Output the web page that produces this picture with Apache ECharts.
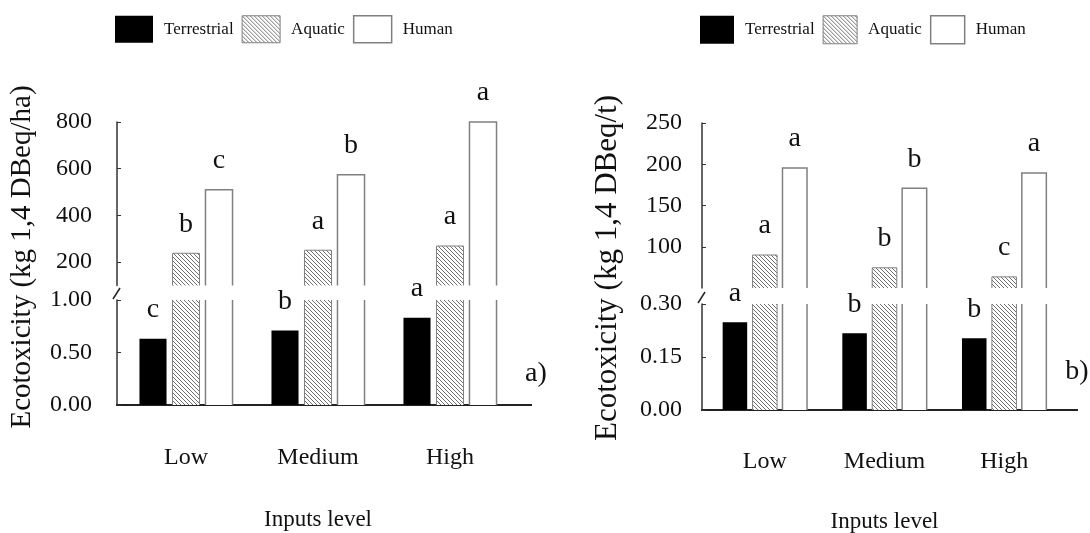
<!DOCTYPE html>
<html>
<head>
<meta charset="utf-8">
<script src="https://cdn.jsdelivr.net/npm/echarts@6/dist/echarts.min.js"></script>
<style>
  html, body { margin: 0; padding: 0; background: #fff; }
  #chart { width: 1090px; height: 533px; }
</style>
</head>
<body>
<div id="chart"></div>
<script>
// categories
const levels = ['Low', 'Medium', 'High'];
const seriesNames = ['Terrestrial', 'Aquatic', 'Human'];

// panel a) - kg 1,4 DBeq/ha
const terrA = [0.63, 0.71, 0.83];
const aquaA = [238, 251, 269];
const humanA = [510, 574, 800];
const terrA_sig = ['c', 'b', 'a'];
const aquaA_sig = ['b', 'a', 'a'];
const humanA_sig = ['c', 'b', 'a'];

// panel b) - kg 1,4 DBeq/t
const terrB = [0.248, 0.217, 0.203];
const aquaB = [90, 74.5, 63.5];
const humanB = [195.5, 171, 189.5];
const terrB_sig = ['a', 'b', 'b'];
const aquaB_sig = ['a', 'b', 'c'];
const humanB_sig = ['a', 'b', 'a'];

// tick labels of the broken y axes
const ticksA_low = [0, 0.5, 1];
const ticksA_high = [200, 400, 600, 800];
const ticksB_low = [0, 0.15, 0.3];
const ticksB_high = [100, 150, 200, 250];

const serif = '"Liberation Serif", "DejaVu Serif", serif';

// hatch fill for the aquatic bars
function makeHatch() {
  const c = document.createElement('canvas');
  c.width = 4; c.height = 4;
  const g = c.getContext('2d');
  g.fillStyle = '#fff';
  g.fillRect(0, 0, 4, 4);
  g.strokeStyle = '#707070';
  g.lineWidth = 1;
  g.beginPath();
  g.moveTo(0, 0); g.lineTo(4, 4);
  g.moveTo(-1, 3); g.lineTo(1, 5);
  g.moveTo(3, -1); g.lineTo(5, 1);
  g.stroke();
  return c;
}
const hatch = { image: makeHatch(), repeat: 'repeat' };

const looks = {
  Terrestrial: { fill: '#000', stroke: null, width: 0 },
  Aquatic: { fill: hatch, stroke: '#808080', width: 1 },
  Human: { fill: '#fff', stroke: '#808080', width: 1.5 }
};

// draws one bar group slot, leaves the side cut by the axis break open
function barRenderer(slot, look, letters) {
  return function (params, api) {
    const cs = params.coordSys;
    const i = api.value(0);
    const v = api.value(1);
    const band = api.size([1, 0])[0];
    const w = band * 0.205;
    const p = api.coord([i, v]);
    const x = p[0] + (slot - 1) * band * 0.25 - w / 2;
    const base = cs.y + cs.height;
    if (p[1] >= base) return null;
    const top = Math.max(p[1], cs.y);
    const closed = p[1] >= cs.y - 0.5;
    const children = [{
      type: 'rect',
      shape: { x: x, y: top, width: w, height: base - top },
      style: { fill: look.fill }
    }];
    if (look.stroke) {
      const pts = closed
        ? [[x, base], [x, top], [x + w, top], [x + w, base]]
        : [[x, top], [x, base]];
      children.push({ type: 'polyline', shape: { points: pts },
        style: { stroke: look.stroke, lineWidth: look.width, fill: null } });
      if (!closed) {
        children.push({ type: 'polyline', shape: { points: [[x + w, top], [x + w, base]] },
          style: { stroke: look.stroke, lineWidth: look.width, fill: null } });
      }
    }
    if (letters && closed) {
      children.push({
        type: 'text', x: x + w / 2, y: top - 15,
        style: { text: letters[i], fill: '#111', fontSize: 28, fontFamily: serif,
          align: 'center', verticalAlign: 'bottom' }
      });
    }
    return { type: 'group', children: children };
  };
}

function barSeries(name, slot, axisIndex, values, letters) {
  const look = looks[name];
  return {
    name: name,
    type: 'custom',
    xAxisIndex: axisIndex,
    yAxisIndex: axisIndex,
    data: values.map((v, i) => [i, v]),
    encode: { x: 0, y: 1 },
    itemStyle: { color: look.fill, borderColor: look.stroke || '#000', borderWidth: look.width },
    renderItem: barRenderer(slot, look, letters),
    silent: true
  };
}

function xAxisCfg(gridIndex, lower, margin, nameGap) {
  return {
    type: 'category', gridIndex: gridIndex, data: levels, show: lower,
    axisLine: { show: true, lineStyle: { color: '#222', width: 2 } },
    axisTick: { show: false },
    axisLabel: { margin: margin, fontSize: 24, fontFamily: serif, color: '#111' },
    name: lower ? 'Inputs level' : '',
    nameLocation: 'middle', nameGap: nameGap,
    nameTextStyle: { fontSize: 23, fontFamily: serif, color: '#111' }
  };
}

function yAxisCfg(gridIndex, min, max, ticks, decimals, margin) {
  return {
    type: 'value', gridIndex: gridIndex, min: min, max: max, offset: 3,
    splitLine: { show: false },
    axisLine: { show: true, lineStyle: { color: '#333', width: 1.5 } },
    axisTick: { show: true, inside: true, length: 4, customValues: ticks,
      lineStyle: { color: '#333' } },
    axisLabel: { customValues: ticks, margin: margin, fontSize: 24, fontFamily: serif,
      color: '#111', formatter: v => v.toFixed(decimals) }
  };
}

function legendCfg(left, iw, ih, tw) {
  return {
    left: left, top: 10, icon: 'rect', itemWidth: iw, itemHeight: ih, itemGap: 8,
    selectedMode: false,
    textStyle: { fontSize: 17, fontFamily: serif, color: '#111', width: tw, padding: [0, 0, 0, 6] },
    data: seriesNames.map(n => ({
      name: n,
      itemStyle: { color: looks[n].fill, borderColor: looks[n].stroke || '#000',
        borderWidth: looks[n].width }
    }))
  };
}

const chart = echarts.init(document.getElementById('chart'));

chart.setOption({
  backgroundColor: '#fff',
  animation: false,
  legend: [legendCfg(110, 38, 27, 74), legendCfg(695, 34, 28, 67)],
  grid: [
    { left: 120, top: 122, width: 396, height: 163.5, outerBoundsMode: 'none' },
    { left: 120, top: 300, width: 396, height: 105, outerBoundsMode: 'none' },
    { left: 705, top: 123, width: 359, height: 165, outerBoundsMode: 'none' },
    { left: 705, top: 304, width: 359, height: 106, outerBoundsMode: 'none' }
  ],
  xAxis: [
    xAxisCfg(0, false, 0, 0),
    xAxisCfg(1, true, 41, 103),
    xAxisCfg(2, false, 0, 0),
    xAxisCfg(3, true, 40, 100)
  ],
  yAxis: [
    yAxisCfg(0, 100, 800, ticksA_high, 0, 25),
    yAxisCfg(1, 0, 1, ticksA_low, 2, 25),
    yAxisCfg(2, 50, 250, ticksB_high, 0, 20),
    yAxisCfg(3, 0, 0.3, ticksB_low, 2, 20)
  ],
  series: [
    // panel a, upper part
    barSeries('Aquatic', 1, 0, aquaA, aquaA_sig),
    barSeries('Human', 2, 0, humanA, humanA_sig),
    // panel a, lower part
    barSeries('Terrestrial', 0, 1, terrA, terrA_sig),
    barSeries('Aquatic', 1, 1, aquaA, null),
    barSeries('Human', 2, 1, humanA, null),
    // panel b, upper part
    barSeries('Aquatic', 1, 2, aquaB, aquaB_sig),
    barSeries('Human', 2, 2, humanB, humanB_sig),
    // panel b, lower part
    barSeries('Terrestrial', 0, 3, terrB, terrB_sig),
    barSeries('Aquatic', 1, 3, aquaB, null),
    barSeries('Human', 2, 3, humanB, null)
  ],
  graphic: [
    // x axis lines run a bit past the last category
    { type: 'line', shape: { x1: 116, y1: 405, x2: 532, y2: 405 }, style: { stroke: '#222', lineWidth: 2 } },
    { type: 'line', shape: { x1: 701, y1: 410, x2: 1078, y2: 410 }, style: { stroke: '#222', lineWidth: 2 } },
    // axis break marks
    { type: 'line', shape: { x1: 113, y1: 299, x2: 120, y2: 288 }, style: { stroke: '#222', lineWidth: 1.5 } },
    { type: 'line', shape: { x1: 698, y1: 303, x2: 705, y2: 292 }, style: { stroke: '#222', lineWidth: 1.5 } },
    // y axis titles
    { type: 'text', x: 22, y: 257, rotation: Math.PI / 2,
      style: { text: 'Ecotoxicity (kg 1,4 DBeq/ha)', fontSize: 29, fontFamily: serif, fill: '#111',
        align: 'center', verticalAlign: 'middle' } },
    { type: 'text', x: 608, y: 268, rotation: Math.PI / 2,
      style: { text: 'Ecotoxicity (kg 1,4 DBeq/t)', fontSize: 31, fontFamily: serif, fill: '#111',
        align: 'center', verticalAlign: 'middle' } },
    // panel tags
    { type: 'text', x: 536, y: 374,
      style: { text: 'a)', fontSize: 28, fontFamily: serif, fill: '#111', align: 'center', verticalAlign: 'middle' } },
    { type: 'text', x: 1077, y: 372,
      style: { text: 'b)', fontSize: 28, fontFamily: serif, fill: '#111', align: 'center', verticalAlign: 'middle' } }
  ]
});
</script>
</body>
</html>
